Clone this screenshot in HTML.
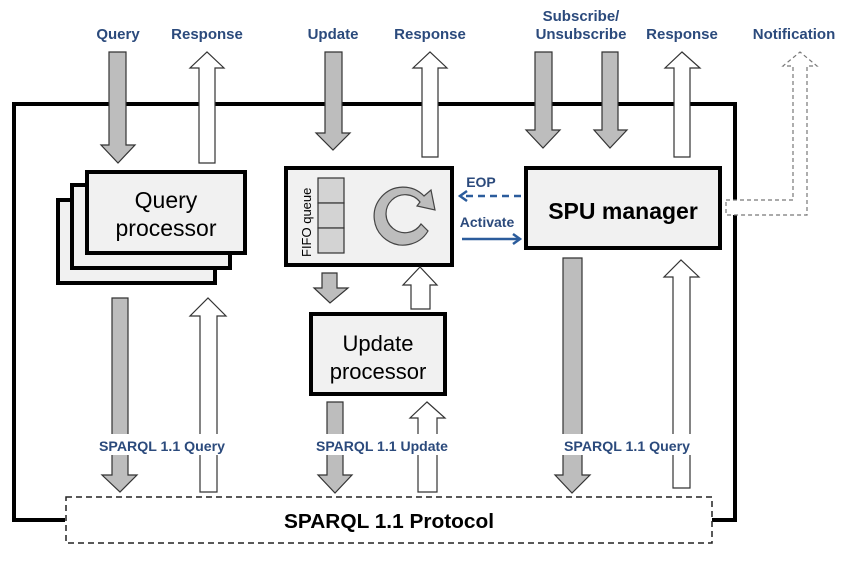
<!DOCTYPE html>
<html><head><meta charset="utf-8"><style>
html,body{margin:0;padding:0;background:#fff;}
svg{display:block;}
.lb{font-family:"Liberation Sans",sans-serif;font-weight:bold;fill:#2b4a7c;}
</style></head><body>
<svg width="850" height="563" viewBox="0 0 850 563" xmlns="http://www.w3.org/2000/svg">
<path d="M65,520 H14 V104 H735 V520 H712" fill="none" stroke="#000" stroke-width="4"/>

<g class="lb" font-size="15" text-anchor="middle">
<text x="118" y="39">Query</text>
<text x="207" y="39">Response</text>
<text x="333" y="39">Update</text>
<text x="430" y="39">Response</text>
<text x="581" y="21">Subscribe/</text>
<text x="581" y="39">Unsubscribe</text>
<text x="682" y="39">Response</text>
<text x="794" y="39">Notification</text>
</g>

<g stroke="#333" stroke-width="1.2">
<polygon fill="#bdbdbd" points="109,52 126,52 126,145 135,145 118,163 101,145 109,145"/>
<polygon fill="#bdbdbd" points="325,52 342,52 342,133 350,133 333,150 316,133 325,133"/>
<polygon fill="#bdbdbd" points="535,52 552,52 552,130 560,130 543,148 526,130 535,130"/>
<polygon fill="#bdbdbd" points="602,52 618,52 618,130 627,130 610,148 594,130 602,130"/>
<polygon fill="#fff" points="199,163 215,163 215,68 224,68 207,52 190,68 199,68"/>
<polygon fill="#fff" points="422,157 438,157 438,68 447,68 430,52 413,68 422,68"/>
<polygon fill="#fff" points="674,157 690,157 690,68 700,68 682,52 665,68 674,68"/>
</g>
<polygon fill="#fff" stroke="#777" stroke-width="1.2" stroke-dasharray="4,3" points="726,200 793,200 793,66 783,66 800,52 817,66 807,66 807,215 726,215"/>

<g fill="#f1f1f1" stroke="#000" stroke-width="4">
<rect x="58" y="200" width="157" height="83"/>
<rect x="72" y="185" width="158" height="83"/>
<rect x="87" y="172" width="158" height="81"/>
</g>
<text x="166" y="208" font-family="Liberation Sans,sans-serif" font-size="23" text-anchor="middle">Query</text>
<text x="166" y="236" font-family="Liberation Sans,sans-serif" font-size="23" text-anchor="middle">processor</text>

<rect x="286" y="168" width="166" height="97" fill="#f1f1f1" stroke="#000" stroke-width="4"/>
<g fill="#d3d3d3" stroke="#333" stroke-width="1.2">
<rect x="318" y="178" width="26" height="25"/>
<rect x="318" y="203" width="26" height="25"/>
<rect x="318" y="228" width="26" height="25"/>
</g>
<text transform="translate(311,257) rotate(-90)" font-family="Liberation Sans,sans-serif" font-size="13">FIFO queue</text>
<path d="M428,231 A29,29 0 1 1 424,196 L431,190 L435,210 L417,206 L420,202 A19,19 0 1 0 421,224 Z" fill="#bdbdbd" stroke="#444" stroke-width="1.2"/>

<text class="lb" x="481" y="187" font-size="14" text-anchor="middle">EOP</text>
<text class="lb" x="487" y="227" font-size="14" text-anchor="middle">Activate</text>
<line x1="521" y1="196" x2="463" y2="196" stroke="#2b5c9c" stroke-width="2.5" stroke-dasharray="7,5"/>
<polyline points="467,191 460,196 467,201" fill="none" stroke="#2b5c9c" stroke-width="2.5"/>
<line x1="462" y1="239" x2="518" y2="239" stroke="#2b5c9c" stroke-width="2.5"/>
<polyline points="513,234 520,239 513,244" fill="none" stroke="#2b5c9c" stroke-width="2.5"/>

<rect x="526" y="168" width="194" height="80" fill="#f1f1f1" stroke="#000" stroke-width="4"/>
<text x="623" y="219" font-family="Liberation Sans,sans-serif" font-size="23" font-weight="bold" text-anchor="middle">SPU manager</text>

<rect x="311" y="314" width="134" height="80" fill="#f1f1f1" stroke="#000" stroke-width="4"/>
<text x="378" y="351" font-family="Liberation Sans,sans-serif" font-size="22" text-anchor="middle">Update</text>
<text x="378" y="379" font-family="Liberation Sans,sans-serif" font-size="22" text-anchor="middle">processor</text>

<g stroke="#333" stroke-width="1.2">
<polygon fill="#bdbdbd" points="322,273 337,273 337,288 348,288 330,303 314,288 322,288"/>
<polygon fill="#fff" points="411,309 430,309 430,285 437,285 420,267 403,285 411,285"/>
<polygon fill="#bdbdbd" points="112,298 128,298 128,475 137,475 120,492 102,475 112,475"/>
<polygon fill="#fff" points="200,492 217,492 217,316 226,316 208,298 190,316 200,316"/>
<polygon fill="#bdbdbd" points="327,402 343,402 343,475 352,475 335,493 318,475 327,475"/>
<polygon fill="#fff" points="418,492 437,492 437,418 445,418 427,402 410,418 418,418"/>
<polygon fill="#bdbdbd" points="563,258 582,258 582,475 590,475 572,493 555,475 563,475"/>
<polygon fill="#fff" points="673,488 690,488 690,277 699,277 681,260 664,277 673,277"/>
</g>
<rect x="95" y="434" width="134" height="21" fill="#fff"/>
<rect x="312" y="434" width="139" height="21" fill="#fff"/>
<rect x="560" y="434" width="134" height="21" fill="#fff"/>
<g class="lb" font-size="14" text-anchor="middle">
<text x="162" y="451" textLength="126" lengthAdjust="spacingAndGlyphs">SPARQL 1.1 Query</text>
<text x="382" y="451" textLength="132" lengthAdjust="spacingAndGlyphs">SPARQL 1.1 Update</text>
<text x="627" y="451" textLength="126" lengthAdjust="spacingAndGlyphs">SPARQL 1.1 Query</text>
</g>

<rect x="66" y="497" width="646" height="46" fill="#fff" stroke="#222" stroke-width="1.5" stroke-dasharray="6,4"/>
<text x="389" y="528" font-family="Liberation Sans,sans-serif" font-size="20" font-weight="bold" text-anchor="middle" textLength="210" lengthAdjust="spacingAndGlyphs">SPARQL 1.1 Protocol</text>
</svg>
</body></html>
